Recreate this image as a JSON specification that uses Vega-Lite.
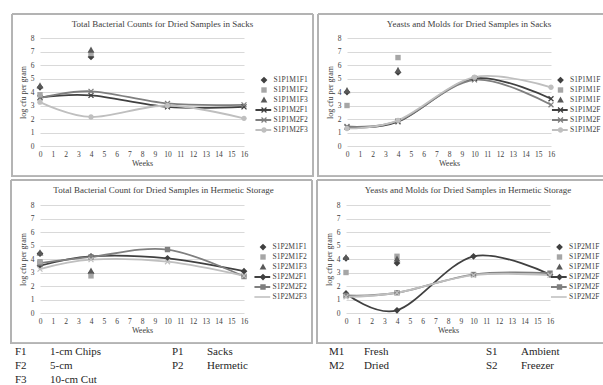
{
  "$schema": "https://vega.github.io/schema/vega-lite/v6.json",
  "padding": {"left": 10, "top": 13, "right": 0, "bottom": 0},
  "background": "white",
  "config": {
    "font": "Liberation Serif",
    "view": {"stroke": null},
    "axis": {"labelFontSize": 7.5, "labelColor": "#404040", "titleFontSize": 8, "titleFontWeight": "normal", "titleColor": "#404040", "ticks": false, "domain": false, "labelFlush": false, "labelOverlap": false},
    "axisX": {"grid": false, "labelPadding": 4, "titlePadding": 2, "tickCount": 16},
    "axisY": {"grid": true, "gridColor": "#d9d9d9", "gridWidth": 1, "labelPadding": 6, "titlePadding": 3, "tickCount": 8},
    "legend": {"symbolSize": 81, "labelFontSize": 7.5, "labelColor": "#404040", "labelOffset": 5, "rowPadding": 2, "padding": 0, "symbolStrokeWidth": 0, "orient": "none"},
    "title": {"fontSize": 9, "fontWeight": "normal", "color": "#404040", "anchor": "middle", "frame": "bounds", "offset": -16, "baseline": "middle"}
  },
  "datasets": {
    "tl": [
      {"series": "S1P1M1F1", "week": 0, "value": 4.35}, {"series": "S1P1M1F1", "week": 4, "value": 6.6},
      {"series": "S1P1M1F2", "week": 0, "value": 3.8}, {"series": "S1P1M1F2", "week": 4, "value": 6.85},
      {"series": "S1P1M1F3", "week": 0, "value": 4.45}, {"series": "S1P1M1F3", "week": 4, "value": 7.1},
      {"series": "S1P1M2F1", "week": 0, "value": 3.6}, {"series": "S1P1M2F1", "week": 4, "value": 3.75}, {"series": "S1P1M2F1", "week": 10, "value": 2.9}, {"series": "S1P1M2F1", "week": 16, "value": 2.9},
      {"series": "S1P1M2F2", "week": 0, "value": 3.55}, {"series": "S1P1M2F2", "week": 4, "value": 4.05}, {"series": "S1P1M2F2", "week": 10, "value": 3.15}, {"series": "S1P1M2F2", "week": 16, "value": 3.05},
      {"series": "S1P1M2F3", "week": 0, "value": 3.25}, {"series": "S1P1M2F3", "week": 4, "value": 2.15}, {"series": "S1P1M2F3", "week": 10, "value": 3.0}, {"series": "S1P1M2F3", "week": 16, "value": 2.05}
    ],
    "tr": [
      {"series": "S1P1M1F1", "week": 0, "value": 4.0}, {"series": "S1P1M1F1", "week": 4, "value": 5.45},
      {"series": "S1P1M1F2", "week": 0, "value": 3.0}, {"series": "S1P1M1F2", "week": 4, "value": 6.55},
      {"series": "S1P1M1F3", "week": 0, "value": 4.1}, {"series": "S1P1M1F3", "week": 4, "value": 5.6},
      {"series": "S1P1M2F1", "week": 0, "value": 1.4}, {"series": "S1P1M2F1", "week": 4, "value": 1.8}, {"series": "S1P1M2F1", "week": 10, "value": 5.0}, {"series": "S1P1M2F1", "week": 16, "value": 3.5},
      {"series": "S1P1M2F2", "week": 0, "value": 1.45}, {"series": "S1P1M2F2", "week": 4, "value": 1.85}, {"series": "S1P1M2F2", "week": 10, "value": 4.9}, {"series": "S1P1M2F2", "week": 16, "value": 3.05},
      {"series": "S1P1M2F3", "week": 0, "value": 1.3}, {"series": "S1P1M2F3", "week": 4, "value": 1.9}, {"series": "S1P1M2F3", "week": 10, "value": 5.1}, {"series": "S1P1M2F3", "week": 16, "value": 4.35}
    ],
    "bl": [
      {"series": "S1P2M1F1", "week": 0, "value": 4.4}, {"series": "S1P2M1F1", "week": 4, "value": 2.95},
      {"series": "S1P2M1F2", "week": 0, "value": 3.8}, {"series": "S1P2M1F2", "week": 4, "value": 2.75},
      {"series": "S1P2M1F3", "week": 0, "value": 4.45}, {"series": "S1P2M1F3", "week": 4, "value": 3.1},
      {"series": "S1P2M2F1", "week": 0, "value": 3.5}, {"series": "S1P2M2F1", "week": 4, "value": 4.2}, {"series": "S1P2M2F1", "week": 10, "value": 4.05}, {"series": "S1P2M2F1", "week": 16, "value": 3.1},
      {"series": "S1P2M2F2", "week": 0, "value": 3.7}, {"series": "S1P2M2F2", "week": 4, "value": 4.15}, {"series": "S1P2M2F2", "week": 10, "value": 4.7}, {"series": "S1P2M2F2", "week": 16, "value": 2.7},
      {"series": "S1P2M2F3", "week": 0, "value": 3.25}, {"series": "S1P2M2F3", "week": 4, "value": 3.95}, {"series": "S1P2M2F3", "week": 10, "value": 3.8}, {"series": "S1P2M2F3", "week": 16, "value": 2.75}
    ],
    "br": [
      {"series": "S1P2M1F1", "week": 0, "value": 4.05}, {"series": "S1P2M1F1", "week": 4, "value": 3.7},
      {"series": "S1P2M1F2", "week": 0, "value": 3.0}, {"series": "S1P2M1F2", "week": 4, "value": 4.2},
      {"series": "S1P2M1F3", "week": 0, "value": 4.1}, {"series": "S1P2M1F3", "week": 4, "value": 4.0},
      {"series": "S1P2M2F1", "week": 0, "value": 1.45}, {"series": "S1P2M2F1", "week": 4, "value": 0.2}, {"series": "S1P2M2F1", "week": 10, "value": 4.2}, {"series": "S1P2M2F1", "week": 16, "value": 2.85},
      {"series": "S1P2M2F2", "week": 0, "value": 1.3}, {"series": "S1P2M2F2", "week": 4, "value": 1.5}, {"series": "S1P2M2F2", "week": 10, "value": 2.85}, {"series": "S1P2M2F2", "week": 16, "value": 2.95},
      {"series": "S1P2M2F3", "week": 0, "value": 1.2}, {"series": "S1P2M2F3", "week": 4, "value": 1.5}, {"series": "S1P2M2F3", "week": 10, "value": 2.8}, {"series": "S1P2M2F3", "week": 16, "value": 2.8}
    ],
    "key": [
      {"grp": "F", "row": 1, "code": "F1", "desc": "1-cm Chips"},
      {"grp": "F", "row": 2, "code": "F2", "desc": "5-cm"},
      {"grp": "F", "row": 3, "code": "F3", "desc": "10-cm Cut"},
      {"grp": "P", "row": 1, "code": "P1", "desc": "Sacks"},
      {"grp": "P", "row": 2, "code": "P2", "desc": "Hermetic"},
      {"grp": "M", "row": 1, "code": "M1", "desc": "Fresh"},
      {"grp": "M", "row": 2, "code": "M2", "desc": "Dried"},
      {"grp": "S", "row": 1, "code": "S1", "desc": "Ambient"},
      {"grp": "S", "row": 2, "code": "S2", "desc": "Freezer"}
    ]
  },
  "spacing": 2,
  "columns": 1,
  "align": "none",
  "concat": [
    {
      "spacing": 3,
      "hconcat": [
        {
          "width": 204, "height": 108,
          "title": {"text": "Total Bacterial Counts for Dried Samples in Sacks"},
          "data": {"name": "tl"},
          "resolve": {"scale": {"color": "independent", "shape": "independent"}},
          "layer": [
            {"mark": {"type": "rect", "filled": false, "stroke": "#b4b4b4", "strokeWidth": 1},
             "encoding": {
               "x": {"datum": -2.196, "type": "quantitative", "scale": {"domain": [0, 16], "nice": false, "zero": false}, "title": "Weeks"},
               "x2": {"datum": 21.412},
               "y": {"datum": 9.778, "type": "quantitative", "scale": {"domain": [0, 8], "nice": false}, "title": "log cfu per gram"},
               "y2": {"datum": -2.25}}},
            {"transform": [{"filter": "indexof(datum.series,'M2')>0"}],
             "mark": {"type": "line", "interpolate": "cardinal", "strokeWidth": 1.8},
             "encoding": {
               "x": {"field": "week", "type": "quantitative", "scale": {"domain": [0, 16], "nice": false, "zero": false}, "title": "Weeks"},
               "y": {"field": "value", "type": "quantitative", "scale": {"domain": [0, 8], "nice": false}, "title": "log cfu per gram"},
               "stroke": {"field": "series", "type": "nominal", "scale": {"domain": ["S1P1M2F1", "S1P1M2F2", "S1P1M2F3"], "range": ["#404040", "#7f7f7f", "#bfbfbf"]}, "legend": null}}},
            {"transform": [{"filter": "indexof(datum.series,'M2')>0"}],
             "mark": {"type": "point", "filled": true, "size": 81, "opacity": 1},
             "encoding": {
               "x": {"field": "week", "type": "quantitative", "title": "Weeks"},
               "y": {"field": "value", "type": "quantitative", "title": "log cfu per gram"},
               "fill": {"field": "series", "type": "nominal", "scale": {"domain": ["S1P1M2F1", "S1P1M2F2", "S1P1M2F3"], "range": ["#404040", "#7f7f7f", "#bfbfbf"]}, "legend": null},
               "shape": {"field": "series", "type": "nominal", "scale": {"domain": ["S1P1M2F1", "S1P1M2F2", "S1P1M2F3"], "range": ["M-0.65,-0.45L-0.45,-0.65L0,-0.2L0.45,-0.65L0.65,-0.45L0.2,0L0.65,0.45L0.45,0.65L0,0.2L-0.45,0.65L-0.65,0.45L-0.2,0Z", "M-0.65,-0.45L-0.45,-0.65L0,-0.2L0.45,-0.65L0.65,-0.45L0.2,0L0.65,0.45L0.45,0.65L0,0.2L-0.45,0.65L-0.65,0.45L-0.2,0Z", "M-0.6,0A0.6,0.6 0 1,1 0.6,0A0.6,0.6 0 1,1 -0.6,0Z"]}, "legend": null}}},
            {"transform": [{"filter": "indexof(datum.series,'M1')>0"}],
             "mark": {"type": "point", "filled": true, "size": 81, "opacity": 1},
             "encoding": {
               "x": {"field": "week", "type": "quantitative", "title": "Weeks"},
               "y": {"field": "value", "type": "quantitative", "title": "log cfu per gram"},
               "color": {"field": "series", "type": "nominal", "scale": {"domain": ["S1P1M1F1", "S1P1M1F2", "S1P1M1F3", "S1P1M2F1", "S1P1M2F2", "S1P1M2F3"], "range": ["#404040", "#a6a6a6", "#595959", "#404040", "#7f7f7f", "#bfbfbf"]}, "legend": {"title": null, "legendX": 219.5, "legendY": 37.5}},
               "shape": {"field": "series", "type": "nominal", "scale": {"domain": ["S1P1M1F1", "S1P1M1F2", "S1P1M1F3", "S1P1M2F1", "S1P1M2F2", "S1P1M2F3"], "range": ["M0,-0.75L0.75,0L0,0.75L-0.75,0Z", "M-0.6,-0.6H0.6V0.6H-0.6Z", "M0,-0.8L0.75,0.55H-0.75Z", "M-1.9,-0.2H1.6V0.2H-1.9ZM-0.65,-0.45L-0.45,-0.65L0,-0.2L0.45,-0.65L0.65,-0.45L0.2,0L0.65,0.45L0.45,0.65L0,0.2L-0.45,0.65L-0.65,0.45L-0.2,0Z", "M-1.9,-0.2H1.6V0.2H-1.9ZM-0.65,-0.45L-0.45,-0.65L0,-0.2L0.45,-0.65L0.65,-0.45L0.2,0L0.65,0.45L0.45,0.65L0,0.2L-0.45,0.65L-0.65,0.45L-0.2,0Z", "M-1.9,-0.2H1.6V0.2H-1.9ZM-0.6,0A0.6,0.6 0 1,1 0.6,0A0.6,0.6 0 1,1 -0.6,0Z"]}, "legend": {"title": null, "legendX": 219.5, "legendY": 37.5}}}}
          ]
        },
        {
          "width": 204, "height": 108,
          "title": {"text": "Yeasts and Molds for Dried Samples in Sacks", "dx": 7},
          "data": {"name": "tr"},
          "resolve": {"scale": {"color": "independent", "shape": "independent"}},
          "layer": [
            {"mark": {"type": "rect", "filled": false, "stroke": "#b4b4b4", "strokeWidth": 1},
             "encoding": {
               "x": {"datum": -2.275, "type": "quantitative", "scale": {"domain": [0, 16], "nice": false, "zero": false}, "title": "Weeks"},
               "x2": {"datum": 20.314},
               "y": {"datum": 9.778, "type": "quantitative", "scale": {"domain": [0, 8], "nice": false}, "title": "log cfu per gram"},
               "y2": {"datum": -2.25}}},
            {"transform": [{"filter": "indexof(datum.series,'M2')>0"}],
             "mark": {"type": "line", "interpolate": "cardinal", "strokeWidth": 1.8},
             "encoding": {
               "x": {"field": "week", "type": "quantitative", "scale": {"domain": [0, 16], "nice": false, "zero": false}, "title": "Weeks"},
               "y": {"field": "value", "type": "quantitative", "scale": {"domain": [0, 8], "nice": false}, "title": "log cfu per gram"},
               "stroke": {"field": "series", "type": "nominal", "scale": {"domain": ["S1P1M2F1", "S1P1M2F2", "S1P1M2F3"], "range": ["#404040", "#7f7f7f", "#bfbfbf"]}, "legend": null}}},
            {"transform": [{"filter": "indexof(datum.series,'M2')>0"}],
             "mark": {"type": "point", "filled": true, "size": 81, "opacity": 1},
             "encoding": {
               "x": {"field": "week", "type": "quantitative", "title": "Weeks"},
               "y": {"field": "value", "type": "quantitative", "title": "log cfu per gram"},
               "fill": {"field": "series", "type": "nominal", "scale": {"domain": ["S1P1M2F1", "S1P1M2F2", "S1P1M2F3"], "range": ["#404040", "#7f7f7f", "#bfbfbf"]}, "legend": null},
               "shape": {"field": "series", "type": "nominal", "scale": {"domain": ["S1P1M2F1", "S1P1M2F2", "S1P1M2F3"], "range": ["M-0.65,-0.45L-0.45,-0.65L0,-0.2L0.45,-0.65L0.65,-0.45L0.2,0L0.65,0.45L0.45,0.65L0,0.2L-0.45,0.65L-0.65,0.45L-0.2,0Z", "M-0.65,-0.45L-0.45,-0.65L0,-0.2L0.45,-0.65L0.65,-0.45L0.2,0L0.65,0.45L0.45,0.65L0,0.2L-0.45,0.65L-0.65,0.45L-0.2,0Z", "M-0.6,0A0.6,0.6 0 1,1 0.6,0A0.6,0.6 0 1,1 -0.6,0Z"]}, "legend": null}}},
            {"transform": [{"filter": "indexof(datum.series,'M1')>0"}],
             "mark": {"type": "point", "filled": true, "size": 81, "opacity": 1},
             "encoding": {
               "x": {"field": "week", "type": "quantitative", "title": "Weeks"},
               "y": {"field": "value", "type": "quantitative", "title": "log cfu per gram"},
               "color": {"field": "series", "type": "nominal", "scale": {"domain": ["S1P1M1F1", "S1P1M1F2", "S1P1M1F3", "S1P1M2F1", "S1P1M2F2", "S1P1M2F3"], "range": ["#404040", "#a6a6a6", "#595959", "#404040", "#7f7f7f", "#bfbfbf"]}, "legend": {"title": null, "legendX": 209, "legendY": 37.5, "labelExpr": "substring(datum.label,0,7)"}},
               "shape": {"field": "series", "type": "nominal", "scale": {"domain": ["S1P1M1F1", "S1P1M1F2", "S1P1M1F3", "S1P1M2F1", "S1P1M2F2", "S1P1M2F3"], "range": ["M0,-0.75L0.75,0L0,0.75L-0.75,0Z", "M-0.6,-0.6H0.6V0.6H-0.6Z", "M0,-0.8L0.75,0.55H-0.75Z", "M-1.9,-0.2H1.6V0.2H-1.9ZM-0.65,-0.45L-0.45,-0.65L0,-0.2L0.45,-0.65L0.65,-0.45L0.2,0L0.65,0.45L0.45,0.65L0,0.2L-0.45,0.65L-0.65,0.45L-0.2,0Z", "M-1.9,-0.2H1.6V0.2H-1.9ZM-0.65,-0.45L-0.45,-0.65L0,-0.2L0.45,-0.65L0.65,-0.45L0.2,0L0.65,0.45L0.45,0.65L0,0.2L-0.45,0.65L-0.65,0.45L-0.2,0Z", "M-1.9,-0.2H1.6V0.2H-1.9ZM-0.6,0A0.6,0.6 0 1,1 0.6,0A0.6,0.6 0 1,1 -0.6,0Z"]}, "legend": {"title": null, "legendX": 209, "legendY": 37.5, "labelExpr": "substring(datum.label,0,7)"}}}}
          ]
        }
      ]
    },
    {
      "spacing": 3,
      "hconcat": [
        {
          "width": 204, "height": 108,
          "title": {"text": "Total Bacterial Count for Dried Samples in Hermetic Storage", "dx": 2},
          "data": {"name": "bl"},
          "resolve": {"scale": {"color": "independent", "shape": "independent"}},
          "layer": [
            {"mark": {"type": "rect", "filled": false, "stroke": "#b4b4b4", "strokeWidth": 1},
             "encoding": {
               "x": {"datum": -2.275, "type": "quantitative", "scale": {"domain": [0, 16], "nice": false, "zero": false}, "title": "Weeks"},
               "x2": {"datum": 21.333},
               "y": {"datum": 9.852, "type": "quantitative", "scale": {"domain": [0, 8], "nice": false}, "title": "log cfu per gram"},
               "y2": {"datum": -2.25}}},
            {"transform": [{"filter": "indexof(datum.series,'M2')>0"}],
             "mark": {"type": "line", "interpolate": "cardinal", "strokeWidth": 1.8},
             "encoding": {
               "x": {"field": "week", "type": "quantitative", "scale": {"domain": [0, 16], "nice": false, "zero": false}, "title": "Weeks"},
               "y": {"field": "value", "type": "quantitative", "scale": {"domain": [0, 8], "nice": false}, "title": "log cfu per gram"},
               "stroke": {"field": "series", "type": "nominal", "scale": {"domain": ["S1P2M2F1", "S1P2M2F2", "S1P2M2F3"], "range": ["#404040", "#7f7f7f", "#c8c8c8"]}, "legend": null}}},
            {"transform": [{"filter": "indexof(datum.series,'M2')>0"}],
             "mark": {"type": "point", "filled": true, "size": 81, "opacity": 1},
             "encoding": {
               "x": {"field": "week", "type": "quantitative", "title": "Weeks"},
               "y": {"field": "value", "type": "quantitative", "title": "log cfu per gram"},
               "fill": {"field": "series", "type": "nominal", "scale": {"domain": ["S1P2M2F1", "S1P2M2F2", "S1P2M2F3"], "range": ["#404040", "#7f7f7f", "#c8c8c8"]}, "legend": null},
               "shape": {"field": "series", "type": "nominal", "scale": {"domain": ["S1P2M2F1", "S1P2M2F2", "S1P2M2F3"], "range": ["M0,-0.75L0.75,0L0,0.75L-0.75,0Z", "M-0.6,-0.6H0.6V0.6H-0.6Z", "M-0.65,-0.45L-0.45,-0.65L0,-0.2L0.45,-0.65L0.65,-0.45L0.2,0L0.65,0.45L0.45,0.65L0,0.2L-0.45,0.65L-0.65,0.45L-0.2,0Z"]}, "legend": null}}},
            {"transform": [{"filter": "indexof(datum.series,'M1')>0"}],
             "mark": {"type": "point", "filled": true, "size": 81, "opacity": 1},
             "encoding": {
               "x": {"field": "week", "type": "quantitative", "title": "Weeks"},
               "y": {"field": "value", "type": "quantitative", "title": "log cfu per gram"},
               "color": {"field": "series", "type": "nominal", "scale": {"domain": ["S1P2M1F1", "S1P2M1F2", "S1P2M1F3", "S1P2M2F1", "S1P2M2F2", "S1P2M2F3"], "range": ["#404040", "#a6a6a6", "#595959", "#404040", "#7f7f7f", "#c8c8c8"]}, "legend": {"title": null, "legendX": 218.5, "legendY": 37.5}},
               "shape": {"field": "series", "type": "nominal", "scale": {"domain": ["S1P2M1F1", "S1P2M1F2", "S1P2M1F3", "S1P2M2F1", "S1P2M2F2", "S1P2M2F3"], "range": ["M0,-0.75L0.75,0L0,0.75L-0.75,0Z", "M-0.6,-0.6H0.6V0.6H-0.6Z", "M0,-0.8L0.75,0.55H-0.75Z", "M-1.9,-0.2H1.6V0.2H-1.9ZM0,-0.75L0.75,0L0,0.75L-0.75,0Z", "M-1.9,-0.2H1.6V0.2H-1.9ZM-0.6,-0.6H0.6V0.6H-0.6Z", "M-1.9,-0.2H1.6V0.2H-1.9Z"]}, "legend": {"title": null, "legendX": 218.5, "legendY": 37.5}}}}
          ]
        },
        {
          "width": 204, "height": 108,
          "title": {"text": "Yeasts and Molds for Dried Samples in Hermetic Storage", "dx": 7},
          "data": {"name": "br"},
          "resolve": {"scale": {"color": "independent", "shape": "independent"}},
          "layer": [
            {"mark": {"type": "rect", "filled": false, "stroke": "#b4b4b4", "strokeWidth": 1},
             "encoding": {
               "x": {"datum": -2.275, "type": "quantitative", "scale": {"domain": [0, 16], "nice": false, "zero": false}, "title": "Weeks"},
               "x2": {"datum": 20.314},
               "y": {"datum": 9.852, "type": "quantitative", "scale": {"domain": [0, 8], "nice": false}, "title": "log cfu per gram"},
               "y2": {"datum": -2.25}}},
            {"transform": [{"filter": "indexof(datum.series,'M2')>0"}],
             "mark": {"type": "line", "interpolate": "cardinal", "strokeWidth": 1.8},
             "encoding": {
               "x": {"field": "week", "type": "quantitative", "scale": {"domain": [0, 16], "nice": false, "zero": false}, "title": "Weeks"},
               "y": {"field": "value", "type": "quantitative", "scale": {"domain": [0, 8], "nice": false}, "title": "log cfu per gram"},
               "stroke": {"field": "series", "type": "nominal", "scale": {"domain": ["S1P2M2F1", "S1P2M2F2", "S1P2M2F3"], "range": ["#404040", "#7f7f7f", "#c8c8c8"]}, "legend": null}}},
            {"transform": [{"filter": "indexof(datum.series,'M2')>0"}],
             "mark": {"type": "point", "filled": true, "size": 81, "opacity": 1},
             "encoding": {
               "x": {"field": "week", "type": "quantitative", "title": "Weeks"},
               "y": {"field": "value", "type": "quantitative", "title": "log cfu per gram"},
               "fill": {"field": "series", "type": "nominal", "scale": {"domain": ["S1P2M2F1", "S1P2M2F2", "S1P2M2F3"], "range": ["#404040", "#7f7f7f", "#c8c8c8"]}, "legend": null},
               "shape": {"field": "series", "type": "nominal", "scale": {"domain": ["S1P2M2F1", "S1P2M2F2", "S1P2M2F3"], "range": ["M0,-0.75L0.75,0L0,0.75L-0.75,0Z", "M-0.6,-0.6H0.6V0.6H-0.6Z", "M-0.65,-0.45L-0.45,-0.65L0,-0.2L0.45,-0.65L0.65,-0.45L0.2,0L0.65,0.45L0.45,0.65L0,0.2L-0.45,0.65L-0.65,0.45L-0.2,0Z"]}, "legend": null}}},
            {"transform": [{"filter": "indexof(datum.series,'M1')>0"}],
             "mark": {"type": "point", "filled": true, "size": 81, "opacity": 1},
             "encoding": {
               "x": {"field": "week", "type": "quantitative", "title": "Weeks"},
               "y": {"field": "value", "type": "quantitative", "title": "log cfu per gram"},
               "color": {"field": "series", "type": "nominal", "scale": {"domain": ["S1P2M1F1", "S1P2M1F2", "S1P2M1F3", "S1P2M2F1", "S1P2M2F2", "S1P2M2F3"], "range": ["#404040", "#a6a6a6", "#595959", "#404040", "#7f7f7f", "#c8c8c8"]}, "legend": {"title": null, "legendX": 209, "legendY": 37.5, "labelExpr": "substring(datum.label,0,7)"}},
               "shape": {"field": "series", "type": "nominal", "scale": {"domain": ["S1P2M1F1", "S1P2M1F2", "S1P2M1F3", "S1P2M2F1", "S1P2M2F2", "S1P2M2F3"], "range": ["M0,-0.75L0.75,0L0,0.75L-0.75,0Z", "M-0.6,-0.6H0.6V0.6H-0.6Z", "M0,-0.8L0.75,0.55H-0.75Z", "M-1.9,-0.2H1.6V0.2H-1.9ZM0,-0.75L0.75,0L0,0.75L-0.75,0Z", "M-1.9,-0.2H1.6V0.2H-1.9ZM-0.6,-0.6H0.6V0.6H-0.6Z", "M-1.9,-0.2H1.6V0.2H-1.9Z"]}, "legend": {"title": null, "legendX": 209, "legendY": 37.5, "labelExpr": "substring(datum.label,0,7)"}}}}
          ]
        }
      ]
    },
    {
      "width": 560, "height": 40,
      "data": {"name": "key"},
      "encoding": {
        "x": {"field": "grp", "type": "nominal", "scale": {"type": "point", "domain": ["F", "P", "M", "S"], "range": [-25, 446], "padding": 0}, "axis": null},
        "y": {"field": "row", "type": "ordinal", "scale": {"type": "point", "domain": [1, 2, 3], "range": [6, 34], "padding": 0}, "axis": null}
      },
      "layer": [
        {"mark": {"type": "text", "align": "left", "baseline": "middle", "fontSize": 11, "color": "#262626"},
         "encoding": {"text": {"field": "code"}}},
        {"mark": {"type": "text", "align": "left", "baseline": "middle", "fontSize": 11, "color": "#262626", "dx": 35},
         "encoding": {"text": {"field": "desc"}}}
      ]
    }
  ]
}
